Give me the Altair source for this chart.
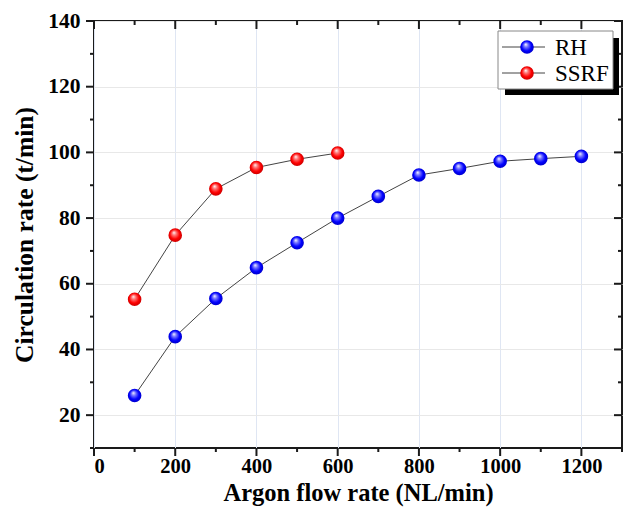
import altair as alt
import pandas as pd

# ---- data ----
rh_x = [100, 200, 300, 400, 500, 600, 700, 800, 900, 1000, 1100, 1200]
rh_y = [26.0, 43.9, 55.5, 64.9, 72.5, 80.0, 86.6, 93.1, 95.1, 97.3, 98.1, 98.8]
ssrf_x = [100, 200, 300, 400, 500, 600]
ssrf_y = [55.3, 74.8, 88.9, 95.4, 97.9, 99.8]
series_names = ["RH", "SSRF"]

x_major = [0, 200, 400, 600, 800, 1000, 1200]
x_minor = [100, 300, 500, 700, 900, 1100, 1300]
y_major = [20, 40, 60, 80, 100, 120, 140]
y_minor = [10, 30, 50, 70, 90, 110, 130]

W, H = 528, 427
FONT = "Liberation Serif"

df = pd.concat([
    pd.DataFrame({"series": series_names[0], "x": rh_x, "y": rh_y}),
    pd.DataFrame({"series": series_names[1], "x": ssrf_x, "y": ssrf_y}),
])

xs = alt.Scale(domain=[0, 1300], nice=False, zero=False)
ys = alt.Scale(domain=[10, 140], nice=False, zero=False)

ax_x = alt.Axis(values=x_major, format="d", title="Argon flow rate (NL/min)", ticks=False,
                domain=False, grid=True, gridColor="#dfe6f3", gridWidth=1,
                labelFont=FONT, labelFontSize=20.5, labelFontWeight="bold",
                labelColor="black", labelPadding=8,
                titleFont=FONT, titleFontSize=24.5, titleFontWeight="bold",
                titleColor="black", titleBaseline="alphabetic", titleY=52)
ax_y = alt.Axis(values=y_major, format="d", title="Circulation rate (t/min)", ticks=False,
                domain=False, grid=True, gridColor="#e8e8e8", gridWidth=1,
                labelFont=FONT, labelFontSize=21.5, labelFontWeight="bold",
                labelColor="black", labelPadding=14,
                titleFont=FONT, titleFontSize=25.5, titleFontWeight="bold",
                titleColor="black", titleBaseline="middle", titleX=-70)


def X(field):
    return alt.X(field, scale=xs, axis=ax_x)


def Y(field):
    return alt.Y(field, scale=ys, axis=ax_y)


def grad(light, mid, dark):
    return alt.RadialGradient(
        gradient="radial",
        stops=[
            alt.GradientStop(offset=0, color="#ffffff"),
            alt.GradientStop(offset=0.28, color=light),
            alt.GradientStop(offset=0.65, color=mid),
            alt.GradientStop(offset=1, color=dark),
        ],
        x1=0.4, y1=0.3, r1=0.0, x2=0.5, y2=0.5, r2=0.55,
    )


blue_g = grad("#7878ff", "#0000ff", "#0000c0")
red_g = grad("#ff7878", "#ff0000", "#c00000")

base = alt.Chart(df)

lines = base.mark_line(color="#444444", strokeWidth=1).encode(
    x=X("x:Q"), y=Y("y:Q"), detail="series:N")

pts_rh = base.transform_filter(alt.datum.series == series_names[0]).mark_point(
    filled=True, fill=blue_g, size=185, opacity=1, strokeWidth=0, shape="circle"
).encode(x=X("x:Q"), y=Y("y:Q"))

pts_ss = base.transform_filter(alt.datum.series == series_names[1]).mark_point(
    filled=True, fill=red_g, size=185, opacity=1, strokeWidth=0, shape="circle"
).encode(x=X("x:Q"), y=Y("y:Q"))

TC = "#1a1a1a"


def xticks(vals, length):
    d = alt.Chart(pd.DataFrame({"x": vals}))
    bottom = d.mark_rule(color=TC, strokeWidth=2).encode(
        x=X("x:Q"), y=alt.value(H), y2=alt.value(H + length))
    top = d.mark_rule(color=TC, strokeWidth=2).encode(
        x=X("x:Q"), y=alt.value(0), y2=alt.value(length))
    return [bottom, top]


def yticks(vals, length):
    d = alt.Chart(pd.DataFrame({"y": vals}))
    left = d.mark_rule(color=TC, strokeWidth=2).encode(
        y=Y("y:Q"), x=alt.value(-length), x2=alt.value(0))
    right = d.mark_rule(color=TC, strokeWidth=2).encode(
        y=Y("y:Q"), x=alt.value(W), x2=alt.value(W - length))
    return [left, right]


ticks = xticks(x_major, 8) + xticks(x_minor, 4) + yticks(y_major, 8) + yticks(y_minor, 4)

one = pd.DataFrame({"a": [0]})
LX0, LX1, LY0, LY1 = 404, 519, 10, 68
shadow = alt.Chart(one).mark_rect(fill="black").encode(
    x=alt.value(LX0 + 7), x2=alt.value(LX1 + 6), y=alt.value(LY0 + 7), y2=alt.value(LY1 + 6))
box = alt.Chart(one).mark_rect(fill="white", stroke="#888888", strokeWidth=1).encode(
    x=alt.value(LX0), x2=alt.value(LX1), y=alt.value(LY0), y2=alt.value(LY1))

legend_layers = [shadow, box]
for name, g, ry in [(series_names[0], blue_g, 26), (series_names[1], red_g, 52)]:
    dd = alt.Chart(pd.DataFrame({"label": [name]}))
    legend_layers.append(dd.mark_rule(color="#444444", strokeWidth=1).encode(
        x=alt.value(LX0 + 4), x2=alt.value(LX0 + 47), y=alt.value(ry)))
    legend_layers.append(dd.mark_point(filled=True, fill=g, size=185, opacity=1,
                                       strokeWidth=0, shape="circle").encode(
        x=alt.value(LX0 + 29), y=alt.value(ry)))
    legend_layers.append(dd.mark_text(align="left", baseline="middle", font=FONT,
                                      fontSize=23, color="black", dy=1).encode(
        x=alt.value(LX0 + 57), y=alt.value(ry), text="label:N"))

chart = alt.layer(lines, pts_rh, pts_ss, *ticks, *legend_layers).properties(
    width=W, height=H,
    padding={"left": 86, "top": 13, "right": 1, "bottom": 60},
    autosize=alt.AutoSizeParams(type="none"),
).configure(background="white").configure_view(stroke=TC, strokeWidth=2)

chart.save("out.html", embed_options={"renderer": "svg", "actions": False})
